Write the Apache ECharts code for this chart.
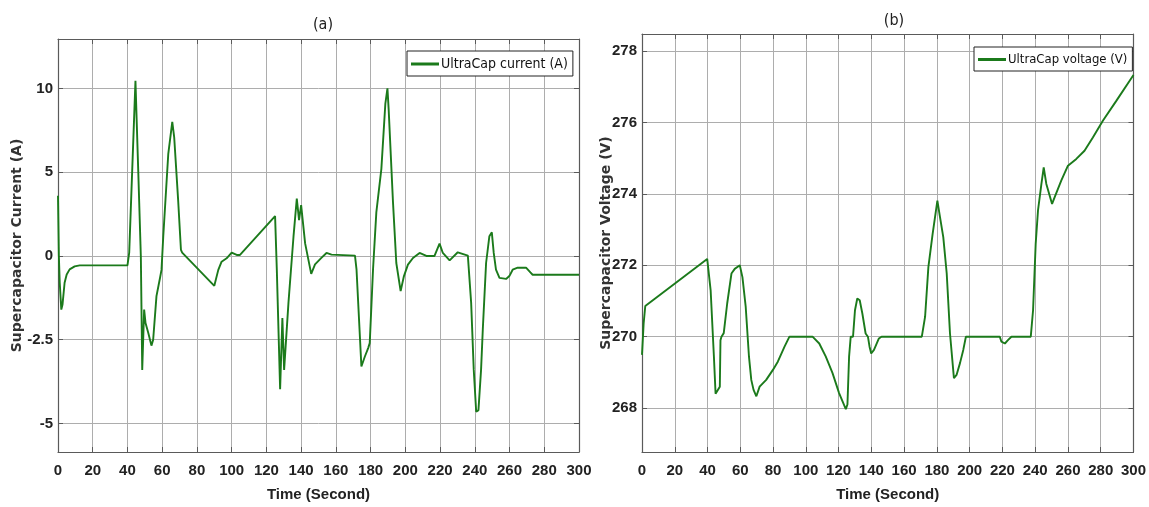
<!DOCTYPE html>
<html>
<head>
<meta charset="utf-8">
<script src="https://cdn.jsdelivr.net/npm/echarts@6/dist/echarts.min.js"></script>
<style>
html,body{margin:0;padding:0;background:#fff;}
#chart{width:1149px;height:507px;}
</style>
</head>
<body>
<div id="chart"></div>
<script>
// ---- Panel (a): UltraCap current (values in axis position units; see tick labels) ----
const currentTime = [0,0.5,1.0,1.9,2.6,3.8,5.0,6.7,9.6,12.5,40,41,44.6,46.2,47.7,48.5,49.6,50.4,52,53.8,54.8,56.7,58.7,59.6,60.6,63.5,65.8,66.9,69.2,70.8,71.5,90,92.3,94.2,97.1,100,102.9,104.8,125,126,127.9,129.2,130.2,132.7,135.6,137.5,138.8,140,142.3,145.8,148,151.5,154.6,157.5,171,171.9,174.7,176.7,178.6,179.5,181.4,183.3,186.2,188.5,189.7,190.4,192.9,194.8,197.3,199.2,201.5,204.4,208.2,212.1,216.8,219.7,221.6,225.5,230.2,236,237,237.9,239.4,240.8,242.1,243.6,244.6,246.5,248.4,249.8,250.9,252.2,254.2,258,259.9,261.8,264.7,269.5,272,273.3,300];
const currentValue = [3.6,0.0,-1.6,-3.2,-2.9,-1.6,-1.1,-0.8,-0.62,-0.56,-0.56,0.2,10.45,5.1,0.0,-6.8,-3.2,-4.0,-4.6,-5.35,-5.0,-2.4,-1.33,-0.83,1.15,6.1,8.0,7.1,3.3,0.36,0.2,-1.78,-0.83,-0.34,-0.14,0.2,0.06,0.06,2.38,-0.83,-7.96,-3.7,-6.8,-2.8,1.15,3.43,2.14,3.03,0.75,-1.07,-0.5,-0.13,0.18,0.08,0.02,-0.82,-6.6,-6.0,-5.5,-5.2,-0.8,2.6,5.2,9.1,10.0,8.75,3.2,-0.42,-2.1,-1.2,-0.52,-0.12,0.18,0.0,0.0,0.74,0.18,-0.26,0.22,0.02,0.0,-2.8,-6.8,-9.3,-9.2,-6.8,-4.4,-0.42,1.18,1.41,0.18,-0.82,-1.31,-1.37,-1.2,-0.82,-0.7,-0.7,-0.98,-1.12,-1.12];
const currentTickValues = [-10,-5,0,5,10];
const currentTickLabels = ['-5','-2.5','0','5','10'];

// ---- Panel (b): UltraCap voltage ----
const voltageTime = [0,1,2,3,39.8,41.9,43.9,44.9,46.1,47.5,47.9,48.5,49.9,52,54.6,56.6,59.7,61.3,63.3,65.3,66.7,68.1,69.8,71.8,72.8,75.8,79.9,82.9,87,90,104.1,108.2,112.2,116.3,120.3,124.4,125.4,126.4,127.4,128.8,130,131.4,132.9,134.5,136.5,137.9,138.9,139.9,141.6,144.6,146.2,170.8,172.8,174.8,177.4,180.3,181.9,183.9,186,188,190.4,192,194.1,196.1,197.7,218.4,219.4,221.5,223.5,225.5,237.3,238.7,240.3,241.7,243.8,245.2,246.8,250.3,251.9,255.9,260,265.1,270.1,275.2,281.3,289.4,300];
const voltageValue = [269.49,270.37,270.86,270.91,272.18,271.3,269.44,268.4,268.37,268.6,269.9,270.0,270.1,270.93,271.77,271.9,272.0,271.67,270.84,269.44,268.79,268.51,268.33,268.6,268.6,268.79,269.07,269.3,269.72,270.0,270.0,269.81,269.44,268.98,268.42,267.97,268.1,269.44,270.0,270.0,270.74,271.07,271.02,270.65,270.09,270.0,269.72,269.53,269.63,269.95,270.0,270.0,270.56,271.95,272.88,273.81,273.35,272.79,271.77,270.09,268.84,268.93,269.26,269.63,270.0,270.0,269.86,269.81,269.91,270.0,270.0,270.74,272.6,273.53,274.28,274.74,274.28,273.72,273.91,274.37,274.79,274.98,275.21,275.58,276.05,276.6,277.33];

const xTickLabels = ['0','20','40','60','80','100','120','140','160','180','200','220','240','260','280','300'];

const titles = ['(a)','(b)'];
const seriesNames = ['UltraCap current (A)','UltraCap voltage (V)'];
const yNames = ['Supercapacitor Current (A)','Supercapacitor Voltage (V)'];
const xName = 'Time (Second)';

const GREEN = '#1b7a1b';
const FRAME = '#5a5a5a';
const GRIDC = '#adadad';
const TICKF = "'Liberation Sans',Arial,sans-serif";
const COND = "'DejaVu Sans Condensed','DejaVu Sans',sans-serif";

function pairs(xs, ys){ return xs.map((x,i)=>[x, ys[i]]); }

const grids = [
  {left:58, right:570, top:39, bottom:54},
  {left:642, right:13, top:34, bottom:51}
];
const yRanges = [[-11.7,12.95],[266.77,278.48]];

const xAxes = [], yAxes = [];
[0,1].forEach(g=>{
  xAxes.push({
    type:'value', gridIndex:g, min:0, max:300, interval:20, position:'bottom',
    name:xName, nameLocation:'middle', nameGap:35, nameMoveOverlap:false,
    nameTextStyle:{fontFamily:TICKF, fontWeight:'bold', fontSize:15, color:'#222'},
    axisLine:{show:true, onZero:false, lineStyle:{color:FRAME, width:1.2}},
    axisTick:{show:true, inside:true, length:5, lineStyle:{color:FRAME}},
    axisLabel:{margin:11, fontFamily:TICKF, fontWeight:'bold', fontSize:15, color:'#222',
      formatter:v=>{const i=Math.round(v/20); return xTickLabels[i]!==undefined && Math.abs(v-i*20)<1e-6 ? xTickLabels[i] : '';}},
    splitLine:{show:true, lineStyle:{color:GRIDC, width:1}}
  });
  xAxes.push({
    type:'value', gridIndex:g, min:0, max:300, interval:20, position:'top',
    axisLine:{show:true, onZero:false, lineStyle:{color:FRAME, width:1.2}},
    axisTick:{show:true, inside:true, length:5, lineStyle:{color:FRAME}},
    axisLabel:{show:false}, splitLine:{show:false}
  });
  const isA = g===0;
  yAxes.push({
    type:'value', gridIndex:g, min:yRanges[g][0], max:yRanges[g][1], position:'left',
    name:yNames[g], nameLocation:'middle', nameRotate:90, nameGap: isA?34:29, nameMoveOverlap:false,
    nameTextStyle:{fontFamily:"'DejaVu Sans',sans-serif", fontWeight:'bold', fontSize:14, color:'#333'},
    axisLine:{show:true, onZero:false, lineStyle:{color:FRAME, width:1.2}},
    axisTick:{show:true, inside:true, length:5, lineStyle:{color:FRAME}},
    axisLabel:{margin:5, fontFamily:TICKF, fontWeight:'bold', fontSize:15, color:'#222',
      showMinLabel:false, showMaxLabel:false,
      formatter: isA
        ? (v=>{const i=currentTickValues.findIndex(t=>Math.abs(t-v)<1e-6); return i>=0?currentTickLabels[i]:'';})
        : (v=>{return (Math.abs(v-Math.round(v))<1e-6 && Math.round(v)%2===0) ? String(Math.round(v)) : '';})},
    splitLine:{show:true, lineStyle:{color:GRIDC, width:1}}
  });
  yAxes.push({
    type:'value', gridIndex:g, min:yRanges[g][0], max:yRanges[g][1], position:'right',
    axisLine:{show:true, onZero:false, lineStyle:{color:FRAME, width:1.2}},
    axisTick:{show:true, inside:true, length:5, lineStyle:{color:FRAME}},
    axisLabel:{show:false}, splitLine:{show:false}
  });
});

function legendOf(name, left, top, fs){
  return {data:[name], left:left, top:top, orient:'vertical', icon:'rect', itemWidth:28, itemHeight:3, itemGap:4,
    padding:[6,5,5,4], backgroundColor:'#fff', borderColor:'#222', borderWidth:1, borderRadius:0,
    textStyle:{fontFamily:COND, fontSize:fs, color:'#111', padding:[0,0,0,-3]}};
}

const option = {
  animation:false,
  backgroundColor:'#ffffff',
  title:[
    {text:titles[0], left:318, top:12, textAlign:'center', textStyle:{fontFamily:COND, fontWeight:'normal', fontSize:16, color:'#222'}},
    {text:titles[1], left:889, top:8, textAlign:'center', textStyle:{fontFamily:COND, fontWeight:'normal', fontSize:16, color:'#222'}}
  ],
  legend:[
    legendOf(seriesNames[0], 407, 51, 14),
    legendOf(seriesNames[1], 974, 47, 13)
  ],
  grid:grids,
  xAxis:xAxes,
  yAxis:yAxes,
  series:[
    {name:seriesNames[0], type:'line', xAxisIndex:0, yAxisIndex:0, data:pairs(currentTime,currentValue),
     showSymbol:false, symbol:'none', lineStyle:{color:GREEN, width:1.9}, itemStyle:{color:GREEN}},
    {name:seriesNames[1], type:'line', xAxisIndex:2, yAxisIndex:2, data:pairs(voltageTime,voltageValue),
     showSymbol:false, symbol:'none', lineStyle:{color:GREEN, width:1.9}, itemStyle:{color:GREEN}}
  ]
};
const chart = echarts.init(document.getElementById('chart'), null, {renderer:'canvas'});
chart.setOption(option);
</script>
</body>
</html>
